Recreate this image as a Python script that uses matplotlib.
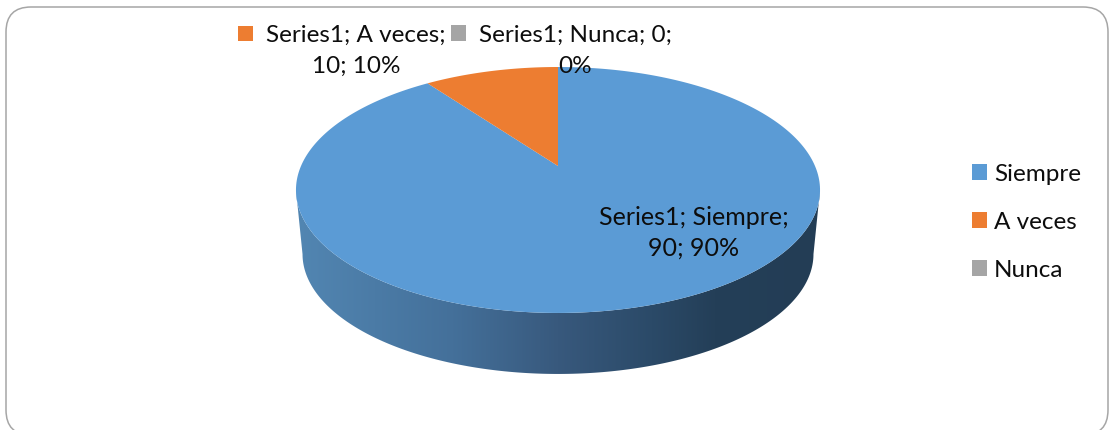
import numpy as np
import matplotlib
matplotlib.use('Agg')
import matplotlib.pyplot as plt
from matplotlib.patches import FancyBboxPatch, Polygon, Patch
from matplotlib.colors import LinearSegmentedColormap

# data
labels = ['Siempre', 'A veces', 'Nunca']
values = [90, 10, 0]
series_name = 'Series1'
colors = ['#5B9BD5', '#ED7D31', '#A5A5A5']

plt.rcParams['font.family'] = ['Lato', 'DejaVu Sans']
FS = 18
FS_TOP = 17.5

fig = plt.figure(figsize=(11.09, 4.30), dpi=100)
ax = fig.add_axes([0, 0, 1, 1])
ax.set_xlim(0, 1109)
ax.set_ylim(430, 0)
ax.axis('off')

# rounded frame, runs off the bottom of the picture
ax.add_patch(FancyBboxPatch((31, 32), 1052, 378, boxstyle='round,pad=25,rounding_size=25',
                            fc='white', ec='#A6A6A6', lw=1.1, zorder=0))

# pie as a tilted disc: perspective projection of the unit circle
CX, CY = 558, 166
A, B, K = 257, 118.3, 0.195
DEPTH = 61
BOTTOM_SCALE = 0.975


def project(theta, scale=1.0, dy=0.0):
    u, v = np.sin(theta), np.cos(theta)
    d = 1 + K * v
    return CX + scale * A * u / d, CY + dy - scale * B * v / d


# side wall with the horizontal shading
t0 = np.arccos(-K)
front = np.linspace(t0, 2 * np.pi - t0, 200)
xt, yt = project(front)
bottom_dy = DEPTH - (project(np.pi, BOTTOM_SCALE)[1] - project(np.pi)[1])
xb, yb = project(front, BOTTOM_SCALE, bottom_dy)
wall = Polygon(np.r_[np.c_[xt, yt], np.c_[xb, yb][::-1]], closed=True, fc='none', ec='none',
               transform=ax.transData)
ax.add_patch(wall)
shade = LinearSegmentedColormap.from_list('wall', [(0, '#5286B2'), (0.3, '#44709A'), (0.5, '#38597D'),
                                                   (0.68, '#2B4A68'), (0.8, '#243F58'), (1, '#233D55')])
im = ax.imshow(np.linspace(0, 1, 256)[None, :], extent=(296, 820, 390, 170), cmap=shade,
               aspect='auto', zorder=1)
im.set_clip_path(wall)
ax.set_xlim(0, 1109)
ax.set_ylim(430, 0)

# top face, clockwise from twelve o'clock
total = sum(values)
start = 0.0
for val, col in zip(values, colors):
    if val > 0:
        end = start + val / total * 2 * np.pi
        th = np.linspace(start, end, 300)
        x, y = project(th)
        ax.fill(np.r_[CX, x], np.r_[CY, y], color=col, lw=0, zorder=2)
        start = end

# data labels
ax.text(694, 233, f'{series_name}; {labels[0]};\n{values[0]}; {values[0] * 100 // total}%', fontsize=FS,
        ha='center', va='center', linespacing=1.42, zorder=3, color='#0d0d0d')
ax.text(356, 51, f'{series_name}; {labels[1]};\n{values[1]}; {values[1] * 100 // total}%', fontsize=FS_TOP,
        ha='center', va='center', linespacing=1.55, zorder=3, color='#0d0d0d')
ax.text(575.5, 51, f'{series_name}; {labels[2]}; {values[2]};\n{values[2] * 100 // total}%', fontsize=FS_TOP,
        ha='center', va='center', linespacing=1.55, zorder=3, color='#0d0d0d')
ax.scatter([245.5, 458.5], [33.5, 33], marker='s', s=117, c=[colors[1], colors[2]], lw=0, zorder=3)

# legend
handles = [Patch(fc=c, ec='none') for c in colors]
ax.legend(handles, labels, loc='upper left', bbox_to_anchor=(948 / 1109, 1 - 139.5 / 430), frameon=False,
          fontsize=FS_TOP, handlelength=0.62, handleheight=0.62, handletextpad=0.27, labelspacing=1.11,
          borderpad=0.5, labelcolor='#0d0d0d')

fig.savefig('out.png', dpi=100)
